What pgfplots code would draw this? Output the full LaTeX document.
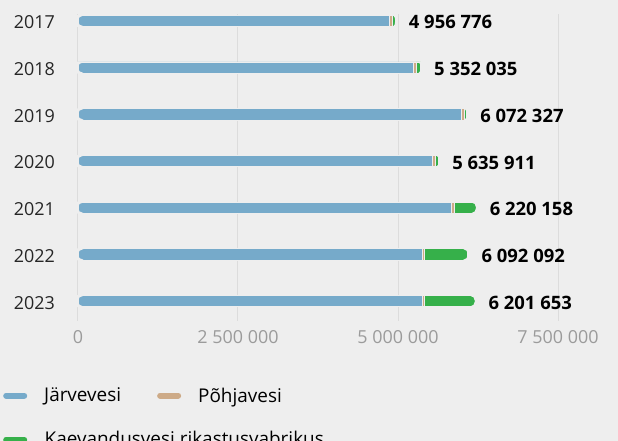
\documentclass[border=0pt]{standalone}
\usepackage{pgfplots}
\pgfplotsset{compat=1.18}
\usepackage{fontspec}
\setmainfont{Open Sans}
\usetikzlibrary{backgrounds}

\definecolor{bgcol}{HTML}{EEEEEE}
\definecolor{cblue}{HTML}{76AACA}
\definecolor{ctan}{HTML}{CDAA87}
\definecolor{cgreen}{HTML}{36B04A}
\definecolor{gridc}{HTML}{DCDCDC}
\definecolor{tickc}{HTML}{9B9B9B}

% background-coloured masks that round off the two outer ends of a bar
\pgfdeclareplotmark{capleft}{%
  \pgfpathmoveto{\pgfqpoint{-1bp}{-6bp}}%
  \pgfpathlineto{\pgfqpoint{-1bp}{6bp}}%
  \pgfpathlineto{\pgfqpoint{5.25bp}{6bp}}%
  \pgfpathlineto{\pgfqpoint{5.25bp}{5.25bp}}%
  \pgfpatharc{90}{270}{5.25bp}%
  \pgfpathlineto{\pgfqpoint{5.25bp}{-6bp}}%
  \pgfpathclose
  \pgfusepathqfill}
\newcommand\defcapright[2]{%
  \pgfdeclareplotmark{#1}{%
    \pgfpathmoveto{\pgfqpoint{1bp}{-6bp}}%
    \pgfpathlineto{\pgfqpoint{1bp}{6bp}}%
    \pgfpathlineto{\pgfqpoint{-#2}{6bp}}%
    \pgfpathlineto{\pgfqpoint{-#2}{5.25bp}}%
    \pgfpatharc{90}{-90}{#2 and 5.25bp}%
    \pgfpathlineto{\pgfqpoint{-#2}{-6bp}}%
    \pgfpathclose
    \pgfusepathqfill}}
\defcapright{caprs}{2bp}
\defcapright{caprl}{4.5bp}

\pgfplotsset{
  base/.style={
    scale only axis, width=480bp, height=307bp,
    xmin=0, xmax=7500000, ymin=-0.148, ymax=6.426, y dir=reverse,
  },
  seg/.style={fill=#1, draw=bgcol, line width=0.8bp,
    legend image code/.code={
      \draw[line width=6bp, line cap=round, draw=#1] (3bp,0bp) -- (21bp,0bp);}},
  mask/.style={only marks, mark=#1, mark options={fill=bgcol, draw=none}},
}

\begin{document}
\begin{tikzpicture}
\begin{axis}[base, name=ax,
  xbar stacked, bar width=11.3bp,
  axis line style={draw=none},
  major tick length=0pt,
  xmajorgrids, grid style={gridc, line width=1bp},
  scaled x ticks=false,
  xtick={0,2500000,5000000,7500000},
  xticklabels={0,2 500 000,5 000 000,7 500 000},
  xticklabel style={anchor=north, inner sep=0pt, yshift=-9bp, text=tickc,
                    font=\fontsize{18}{20}\selectfont},
  ytick={0,1,2,3,4,5,6},
  yticklabels={2017,2018,2019,2020,2021,2022,2023},
  yticklabel style={anchor=east, inner sep=0pt, xshift=-23bp, yshift=-1.5bp,
                    text=black!85, font=\fontsize{18}{20}\selectfont},
  legend columns=2, legend cell align=left,
  legend style={at={(-0.15625,-0.2166)}, anchor=north west, draw=none, fill=none,
    inner sep=0pt, row sep=28bp, font=\fontsize{19}{22}\selectfont,
    nodes={inner sep=0pt},
    /tikz/every odd column/.append style={column sep=17bp},
    /tikz/every even column/.append style={column sep=36bp}},
]
\addplot[seg=cblue] coordinates {
  (4860000,0) (5235000,1) (5985000,2) (5545000,3) (5840000,4) (5375000,5) (5375000,6)};
\addlegendentry{Järvevesi}
\addplot[seg=ctan] coordinates {
  (45000,0) (45000,1) (45000,2) (45000,3) (45000,4) (45000,5) (45000,6)};
\addlegendentry{Põhjavesi}
\addplot[seg=cgreen] coordinates {
  (51776,0) (72035,1) (42327,2) (45911,3) (335158,4) (672092,5) (781653,6)};
\addlegendentry{\rlap{Kaevandusvesi rikastusvabrikus}}
\end{axis}

\begin{axis}[base, at={(ax.south west)}, anchor=south west, hide axis, clip=false]
\addplot[mask=capleft] coordinates {
  (0,0) (0,1) (0,2) (0,3) (0,4) (0,5) (0,6)};
\addplot[mask=caprs] coordinates {
  (4956776,0) (5352035,1) (6072327,2) (5635911,3)};
\addplot[mask=caprl] coordinates {
  (6220158,4) (6092092,5) (6201653,6)};
\addplot[only marks, mark=none,
  point meta=explicit symbolic, nodes near coords,
  every node near coord/.append style={anchor=west, inner sep=0pt, xshift=13.5bp,
    yshift=-1.5bp, text=black, font=\bfseries\fontsize{18.5}{20}\selectfont}]
  coordinates {
  (4956776,0)[4 956 776] (5352035,1)[5 352 035] (6072327,2)[6 072 327]
  (5635911,3)[5 635 911] (6220158,4)[6 220 158] (6092092,5)[6 092 092]
  (6201653,6)[6 201 653]};
\end{axis}

\begin{scope}[on background layer]
\fill[bgcol] ([xshift=-78bp,yshift=14bp]ax.north west) rectangle ++(618bp,-441bp);
\end{scope}
\pgfresetboundingbox
\path[use as bounding box] ([xshift=-78bp,yshift=14bp]ax.north west) rectangle ++(618bp,-441bp);
\end{tikzpicture}
\end{document}
